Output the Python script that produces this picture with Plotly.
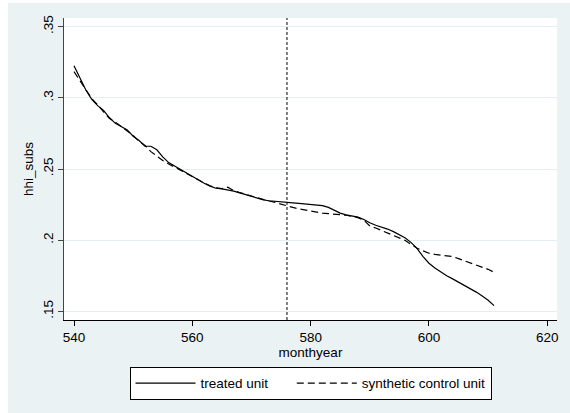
import plotly.graph_objects as go

# Monthly index (Stata %tm style) and outcome series
months = list(range(540, 612))

treated = [
    0.3226, 0.3145, 0.3055, 0.2990, 0.2945, 0.2912, 0.2860, 0.2821, 0.2800, 0.2775,
    0.2730, 0.2700, 0.2660, 0.2660, 0.2635, 0.2585, 0.2545, 0.2520, 0.2495, 0.2470,
    0.2450, 0.2425, 0.2400, 0.2380, 0.2365, 0.2360, 0.2355, 0.2345, 0.2332, 0.2320,
    0.2305, 0.2295, 0.2283, 0.2277, 0.2272, 0.2270, 0.2266, 0.2262, 0.2258, 0.2255,
    0.2252, 0.2248, 0.2243, 0.2230, 0.2210, 0.2190, 0.2178, 0.2172, 0.2162, 0.2145,
    0.2122, 0.2105, 0.2092, 0.2078, 0.2060, 0.2040, 0.2015, 0.1983, 0.1940, 0.1885,
    0.1838, 0.1805, 0.1775, 0.1750, 0.1728, 0.1706, 0.1683, 0.1660, 0.1635, 0.1607,
    0.1578, 0.1540,
]

synthetic = [
    0.3184, 0.3120, 0.3050, 0.2995, 0.2950, 0.2905, 0.2855, 0.2830, 0.2800, 0.2770,
    0.2735, 0.2695, 0.2665, 0.2622, 0.2590, 0.2560, 0.2535, 0.2515, 0.2492, 0.2468,
    0.2448, 0.2425, 0.2402, 0.2382, 0.2368, 0.2362, 0.2372, 0.2348, 0.2335, 0.2325,
    0.2310, 0.2298, 0.2285, 0.2275, 0.2265, 0.2252, 0.2240, 0.2230, 0.2220, 0.2212,
    0.2205, 0.2200, 0.2190, 0.2186, 0.2183, 0.2180, 0.2175, 0.2168, 0.2158, 0.2140,
    0.2100, 0.2085, 0.2068, 0.2050, 0.2032, 0.2015, 0.1998, 0.1970, 0.1943, 0.1925,
    0.1908, 0.1900, 0.1895, 0.1890, 0.1885, 0.1870, 0.1855, 0.1845, 0.1830, 0.1814,
    0.1795, 0.1774,
]

treatment_month = 576

x_ticks = [540, 560, 580, 600, 620]
y_ticks = [0.15, 0.20, 0.25, 0.30, 0.35]
y_tick_text = [".15", ".2", ".25", ".3", ".35"]

BG = "#EAF2F3"
GRID = "#E4EDEF"
FONT = "Liberation Sans, Arial, sans-serif"
FS = 13.5

fig = go.Figure()
fig.add_trace(go.Scatter(
    x=months, y=treated, mode="lines", name="treated unit     ",
    line=dict(color="black", width=1.2),
))
fig.add_trace(go.Scatter(
    x=months, y=synthetic, mode="lines", name="synthetic control unit",
    line=dict(color="black", width=1.2, dash="7px,4px"),
))

# treatment date marker
fig.add_vline(x=treatment_month, line=dict(color="black", width=1, dash="3px,2px"))

# thin white frame around the graph region (left and top)
fig.add_shape(type="rect", xref="paper", yref="paper", layer="above",
              x0=-0.14, x1=(8 - 64) / 493, y0=-0.32, y1=1.07,
              fillcolor="white", line_width=0)
fig.add_shape(type="rect", xref="paper", yref="paper", layer="above",
              x0=-0.14, x1=1.04, y0=(320 - 3) / 302, y1=1.07,
              fillcolor="white", line_width=0)

fig.update_layout(
    width=570, height=413,
    margin=dict(l=64, r=13, t=18, b=93),
    paper_bgcolor=BG, plot_bgcolor="white",
    font=dict(family=FONT, size=FS, color="black"),
    showlegend=True,
    legend=dict(
        orientation="h", x=0.5, xanchor="center", y=-0.155, yanchor="top",
        bgcolor="white", bordercolor="black", borderwidth=1,
        font=dict(size=FS), itemwidth=60, tracegroupgap=0,
    ),
    xaxis=dict(
        range=[538.31, 621.64], tickvals=x_ticks,
        showgrid=False, zeroline=False,
        showline=True, linecolor="black", linewidth=1,
        ticks="outside", ticklen=5, tickcolor="black",
        tickfont=dict(size=FS),
        title=dict(text="monthyear", font=dict(size=FS), standoff=1),
    ),
    yaxis=dict(
        range=[0.1439, 0.3561], tickvals=y_ticks, ticktext=y_tick_text,
        tickangle=-90,
        showgrid=True, gridcolor=GRID, gridwidth=1, zeroline=False,
        showline=True, linecolor="#444444", linewidth=1,
        ticks="outside", ticklen=5, tickcolor="#444444",
        tickfont=dict(size=FS),
        title=dict(text="hhi_subs", font=dict(size=FS), standoff=3),
    ),
)

fig.write_html("out.html")
